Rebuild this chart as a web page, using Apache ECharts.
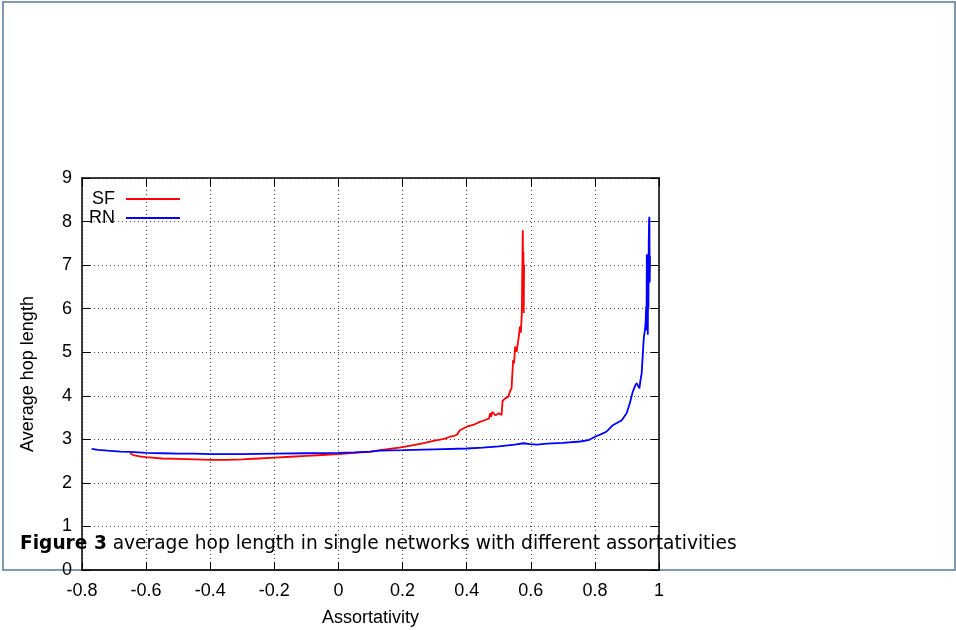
<!DOCTYPE html>
<html>
<head>
<meta charset="utf-8">
<script src="https://cdn.jsdelivr.net/npm/echarts@6/dist/echarts.min.js"></script>
<style>
html,body{margin:0;padding:0;background:#fff;}
#chart{width:956px;height:630px;}
</style>
</head>
<body>
<div id="chart"></div>
<script>
// ---- data ----
var xTicks = [-0.8, -0.6, -0.4, -0.2, 0, 0.2, 0.4, 0.6, 0.8, 1];
var yTicks = [0, 1, 2, 3, 4, 5, 6, 7, 8, 9];
var seriesNames = ['SF', 'RN'];

var sfX = [-0.65, -0.64, -0.62, -0.6, -0.55, -0.5, -0.45, -0.4, -0.35, -0.3, -0.25, -0.2, -0.15, -0.1, -0.05, 0, 0.05, 0.1, 0.13, 0.19, 0.23, 0.27, 0.3, 0.33, 0.348, 0.36, 0.369, 0.379, 0.4, 0.42, 0.441, 0.46, 0.47, 0.473, 0.476, 0.48, 0.49, 0.5, 0.509, 0.512, 0.515, 0.52, 0.525, 0.53, 0.535, 0.54, 0.545, 0.545, 0.548, 0.551, 0.553, 0.556, 0.561, 0.564, 0.566, 0.569, 0.572, 0.573, 0.574, 0.575, 0.576, 0.577, 0.578, 0.579, 0.578];
var sfY = [2.68, 2.64, 2.61, 2.59, 2.56, 2.55, 2.54, 2.53, 2.53, 2.54, 2.56, 2.58, 2.60, 2.62, 2.64, 2.66, 2.69, 2.72, 2.75, 2.81, 2.86, 2.92, 2.97, 3.01, 3.06, 3.08, 3.10, 3.21, 3.29, 3.33, 3.40, 3.45, 3.48, 3.60, 3.52, 3.63, 3.55, 3.60, 3.56, 3.88, 3.90, 3.94, 3.96, 3.98, 4.10, 4.17, 4.21, 4.82, 4.75, 5.13, 5.17, 5.01, 5.01, 5.43, 5.59, 5.45, 5.89, 6.5, 7.12, 7.80, 6.96, 7.3, 6.35, 7.0, 5.9];

var rnX = [-0.77, -0.75, -0.72, -0.7, -0.68, -0.65, -0.6, -0.55, -0.5, -0.45, -0.4, -0.3, -0.2, -0.1, 0, 0.05, 0.1, 0.13, 0.2, 0.3, 0.4, 0.45, 0.5, 0.55, 0.577, 0.597, 0.62, 0.65, 0.7, 0.754, 0.78, 0.8, 0.82, 0.837, 0.857, 0.87, 0.884, 0.899, 0.909, 0.918, 0.925, 0.93, 0.935, 0.939, 0.942, 0.946, 0.949, 0.951, 0.953, 0.956, 0.958, 0.960, 0.961, 0.962, 0.963, 0.964, 0.965, 0.966, 0.967, 0.968, 0.969, 0.970, 0.971, 0.972];
var rnY = [2.78, 2.76, 2.74, 2.73, 2.72, 2.71, 2.69, 2.68, 2.67, 2.67, 2.66, 2.66, 2.67, 2.68, 2.69, 2.70, 2.72, 2.74, 2.75, 2.77, 2.79, 2.81, 2.84, 2.88, 2.91, 2.89, 2.88, 2.90, 2.92, 2.95, 2.98, 3.06, 3.12, 3.18, 3.33, 3.38, 3.44, 3.60, 3.83, 4.09, 4.22, 4.29, 4.25, 4.17, 4.35, 4.52, 4.90, 5.15, 5.36, 5.50, 5.66, 6.05, 5.50, 7.25, 5.60, 7.20, 5.40, 6.50, 6.00, 7.50, 8.03, 8.11, 6.60, 7.20];

function pairs(xs, ys) { return xs.map(function (x, i) { return [x, ys[i]]; }); }
function fmt(v) { var s = (+v).toFixed(1); return s.replace(/\.0$/, '').replace(/^-0$/, '0'); }

var chart = echarts.init(document.getElementById('chart'), null, {renderer: 'canvas'});
var FONT = '"Liberation Sans", Arial, sans-serif';
var gridLine = {show: true, lineStyle: {color: '#444', width: 1, type: [1, 3]}};
var axisLineStyle = {show: true, onZero: false, lineStyle: {color: '#000', width: 1.5}};

var option = {
  backgroundColor: '#fff',
  animation: false,
  grid: {left: 82, right: 297, top: 178, bottom: 60, containLabel: false, outerBoundsMode: 'none'},
  legend: {
    orient: 'vertical',
    left: 84, top: 185,
    align: 'right',
    itemWidth: 54, itemHeight: 2, itemGap: 1,
    icon: 'rect',
    textStyle: {fontFamily: FONT, fontSize: 18, color: '#000', padding: [0, 6, 0, 0]},
    data: seriesNames
  },
  xAxis: [
    {type: 'value', min: xTicks[0], max: xTicks[xTicks.length - 1], interval: 0.2, position: 'bottom',
     axisLine: axisLineStyle, axisTick: {show: true, inside: true, length: 8, lineStyle: {color: '#000'}},
     axisLabel: {formatter: fmt, fontFamily: FONT, fontSize: 18, color: '#000', margin: 12},
     splitLine: gridLine,
     name: 'Assortativity', nameLocation: 'middle', nameGap: 39,
     nameTextStyle: {fontFamily: FONT, fontSize: 18, color: '#000'}},
    {type: 'value', min: xTicks[0], max: xTicks[xTicks.length - 1], interval: 0.2, position: 'top',
     axisLine: axisLineStyle, axisTick: {show: true, inside: true, length: 8, lineStyle: {color: '#000'}},
     axisLabel: {show: false}, splitLine: {show: false}}
  ],
  yAxis: [
    {type: 'value', min: yTicks[0], max: yTicks[yTicks.length - 1], interval: 1, position: 'left',
     axisLine: axisLineStyle, axisTick: {show: true, inside: true, length: 8, lineStyle: {color: '#000'}},
     axisLabel: {fontFamily: FONT, fontSize: 18, color: '#000', margin: 10},
     splitLine: gridLine,
     name: 'Average hop length', nameLocation: 'middle', nameGap: 45, nameRotate: 90,
     nameTextStyle: {fontFamily: FONT, fontSize: 18, color: '#000'}},
    {type: 'value', min: yTicks[0], max: yTicks[yTicks.length - 1], interval: 1, position: 'right',
     axisLine: axisLineStyle, axisTick: {show: true, inside: true, length: 8, lineStyle: {color: '#000'}},
     axisLabel: {show: false}, splitLine: {show: false}}
  ],
  series: [
    {name: seriesNames[0], type: 'line', data: pairs(sfX, sfY), showSymbol: false, symbol: 'none',
     lineStyle: {color: '#ff0000', width: 1.8}, itemStyle: {color: '#ff0000'}, z: 3},
    {name: seriesNames[1], type: 'line', data: pairs(rnX, rnY), showSymbol: false, symbol: 'none',
     lineStyle: {color: '#0000ff', width: 1.8}, itemStyle: {color: '#0000ff'}, z: 4}
  ],
  graphic: [
    {type: 'rect', z: -10, silent: true,
     shape: {x: 3, y: 2, width: 952, height: 568},
     style: {fill: 'none', stroke: '#7f99b3', lineWidth: 2}},
    {type: 'text', z: 100, left: 20, top: 535, silent: true,
     style: {
       text: '{b|Figure 3} average hop length in single networks with different assortativities',
       fontFamily: '"DejaVu Sans", sans-serif', fontSize: 18.6, fill: '#000',
       rich: {b: {fontFamily: '"DejaVu Sans", sans-serif', fontSize: 18.6, fontWeight: 'bold', fill: '#000'}}
     }}
  ]
};
chart.setOption(option);
</script>
</body>
</html>
